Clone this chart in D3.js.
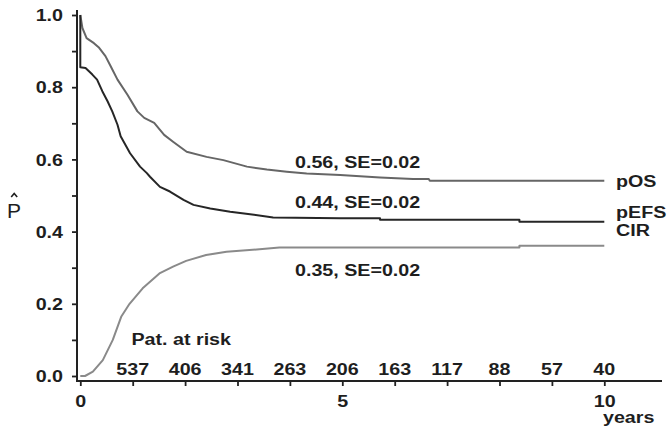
<!DOCTYPE html>
<html>
<head>
  <title>pOS / pEFS / CIR</title>
  <script src="https://d3js.org/d3.v7.min.js"></script>
  <style>
    body { margin: 0; background: #fff; }
    text { font-family: "Liberation Sans", Arial, sans-serif; font-weight: bold; font-size: 16px; fill: #1e1e1e; }
  </style>
</head>
<body>
  <div id="chart"></div>

  <script>
    // curves: [years, probability]
    const pOS = [[0, 1.0], [0.04, 0.964], [0.12, 0.936], [0.26, 0.922], [0.36, 0.909], [0.48, 0.886],
      [0.58, 0.858], [0.71, 0.821], [0.90, 0.779], [1.09, 0.733], [1.22, 0.715], [1.41, 0.701],
      [1.60, 0.668], [1.77, 0.649], [2.03, 0.621], [2.41, 0.607], [2.73, 0.598], [3.18, 0.580],
      [3.56, 0.572], [3.94, 0.566], [4.32, 0.561], [4.96, 0.557], [5.72, 0.550], [6.35, 0.546],
      [6.65, 0.546], [6.67, 0.541], [10, 0.541]];
    const pEFS = [[0, 1.0], [0, 0.855], [0.10, 0.853], [0.23, 0.835], [0.32, 0.821], [0.42, 0.789],
      [0.52, 0.761], [0.61, 0.733], [0.71, 0.696], [0.77, 0.664], [0.95, 0.617], [1.14, 0.580],
      [1.27, 0.562], [1.33, 0.552], [1.52, 0.524], [1.71, 0.511], [1.97, 0.488], [2.16, 0.474],
      [2.48, 0.464], [2.86, 0.455], [3.24, 0.448], [3.68, 0.439], [4.96, 0.437], [5.72, 0.437],
      [5.72, 0.433], [8.38, 0.433], [8.38, 0.427], [10, 0.427]];
    const CIR = [[0, 0], [0.09, 0], [0.24, 0.012], [0.43, 0.044], [0.62, 0.1], [0.78, 0.164],
      [0.94, 0.2], [1.19, 0.243], [1.51, 0.284], [1.77, 0.303], [2.02, 0.319], [2.40, 0.335],
      [2.79, 0.344], [3.42, 0.351], [3.80, 0.356], [8.38, 0.356], [8.38, 0.361], [10, 0.361]];

    const seriesNames = ["pOS", "pEFS", "CIR"];
    const seriesNotes = ["0.56, SE=0.02", "0.44, SE=0.02", "0.35, SE=0.02"];

    const riskYears = [1, 2, 3, 4, 5, 6, 7, 8, 9, 10];
    const atRisk = [537, 406, 341, 263, 206, 163, 117, 88, 57, 40];

    const yTicks = [0, 0.1, 0.2, 0.3, 0.4, 0.5, 0.6, 0.7, 0.8, 0.9, 1.0];
    const xTicks = [0, 1, 2, 3, 4, 5, 6, 7, 8, 9, 10];
    const xLabels = [0, 5, 10];

    const W = 667, H = 430;
    const sx = 1.23; // the figure's lettering is stretched sideways

    const svg = d3.select("#chart").append("svg")
      .attr("width", W).attr("height", H);

    const x = d3.scaleLinear().domain([0, 10]).range([80.3, 604.3]);
    const y = d3.scaleLinear().domain([0, 1]).range([376, 15]);

    const axisX = 77, axisY = 381;

    function label(txt, px, py, anchor) {
      return svg.append("text")
        .attr("transform", "translate(" + px + "," + py + ") scale(" + sx + ",1)")
        .attr("text-anchor", anchor || "start")
        .text(txt);
    }

    // y axis
    const gy = svg.append("g")
      .attr("transform", "translate(" + axisX + ",0)")
      .call(d3.axisLeft(y).tickValues(yTicks).tickSize(5)
        .tickFormat(d => (Math.round(d * 10) % 2 === 0) ? d3.format(".1f")(d) : ""));
    gy.select(".domain").remove();
    gy.selectAll(".tick line").attr("stroke", "#222").attr("stroke-width", 1.8);
    gy.selectAll(".tick text")
      .attr("x", -14 / sx).attr("dy", "0.36em")
      .attr("transform", "scale(" + sx + ",1)")
      .style("font-size", "16px").style("font-family", null);
    svg.append("line")
      .attr("x1", axisX).attr("x2", axisX).attr("y1", 10).attr("y2", axisY + 1)
      .attr("stroke", "#222").attr("stroke-width", 2);

    // x axis
    const gx = svg.append("g")
      .attr("transform", "translate(0," + axisY + ")")
      .call(d3.axisBottom(x).tickValues(xTicks).tickSize(5)
        .tickFormat(d => xLabels.includes(d) ? d : ""));
    gx.select(".domain").remove();
    gx.selectAll(".tick line").attr("stroke", "#222").attr("stroke-width", 1.8);
    gx.selectAll(".tick text")
      .attr("y", 15)
      .attr("transform", "scale(" + sx + ",1)")
      .attr("x", 0)
      .style("font-size", "16px").style("font-family", null);
    svg.append("line")
      .attr("x1", axisX - 1).attr("x2", 662).attr("y1", axisY).attr("y2", axisY)
      .attr("stroke", "#222").attr("stroke-width", 2);

    label("years", 603, 423);

    // axis title P-hat
    svg.append("text")
      .attr("x", 14).attr("y", 218)
      .attr("text-anchor", "middle")
      .style("font-weight", "normal").style("font-size", "21px")
      .text("P");
    svg.append("path")
      .attr("d", "M11.2,197 L14.2,193.5 L17.2,197")
      .attr("fill", "none").attr("stroke", "#1e1e1e").attr("stroke-width", 1.6);

    // curves
    const line = d3.line().x(d => x(d[0])).y(d => y(d[1]));
    const curves = [pOS, pEFS, CIR];
    const colors = ["#666666", "#262626", "#8a8a8a"];
    curves.forEach((c, i) => {
      svg.append("path")
        .datum(c)
        .attr("d", line)
        .attr("fill", "none")
        .attr("stroke", colors[i])
        .attr("stroke-width", 2)
        .attr("stroke-linejoin", "round");
    });

    // curve names and estimates
    const nameY = [187, 218, 236];
    const noteY = [167.5, 208, 276];
    seriesNames.forEach((n, i) => label(n, 616, nameY[i]));
    seriesNotes.forEach((n, i) => label(n, 295, noteY[i]));

    // patients at risk
    label("Pat. at risk", 131.5, 345);
    riskYears.forEach((t, i) => label(atRisk[i], x(t), 375, "middle"));
  </script>
</body>
</html>
